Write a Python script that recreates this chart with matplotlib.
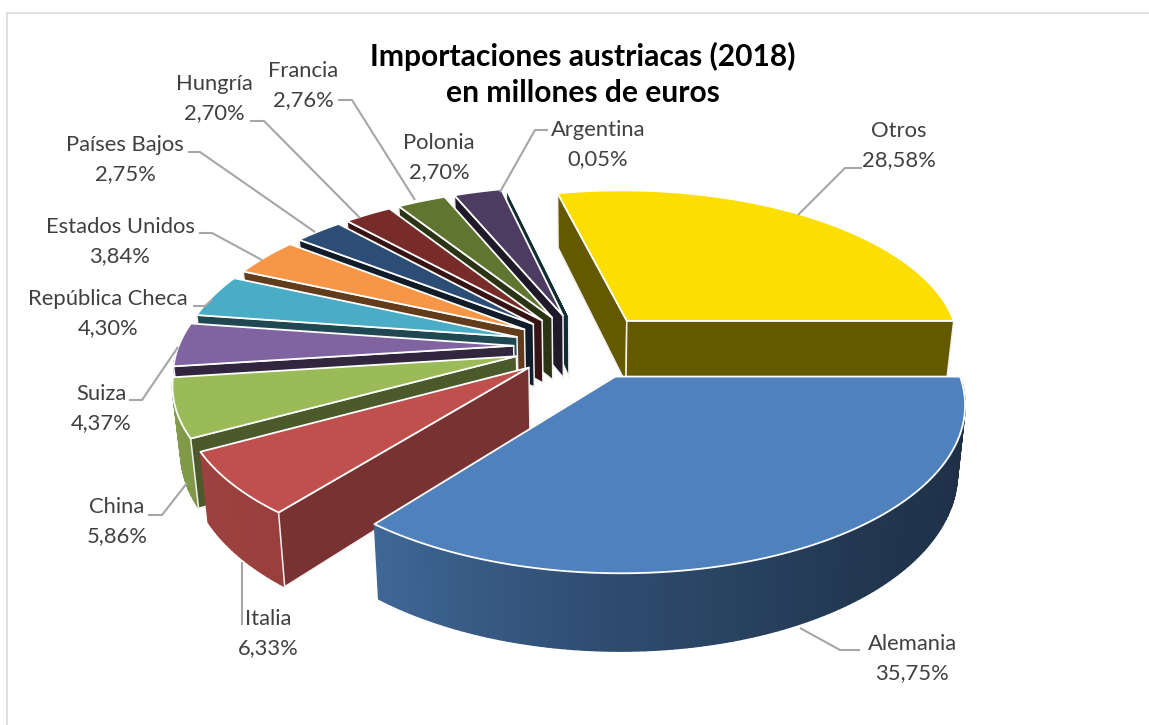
import numpy as np
import matplotlib
matplotlib.use("Agg")
from matplotlib import pyplot as plt
from matplotlib.patches import Polygon, Rectangle

plt.rcParams['font.family'] = ['Lato', 'DejaVu Sans']

countries = ['Alemania', 'Italia', 'China', 'Suiza', 'República Checa', 'Estados Unidos',
             'Países Bajos', 'Hungría', 'Francia', 'Polonia', 'Argentina', 'Otros']
shares = [35.75, 6.33, 5.86, 4.37, 4.30, 3.84, 2.75, 2.70, 2.76, 2.70, 0.05, 28.58]

top_colors = ['#4f81bd', '#bf504d', '#9bbb59', '#8064a2', '#4bacc6', '#f79646',
              '#2c4d75', '#772c2a', '#5f7530', '#4d3b62', '#276a7c', '#fcde00']
wall_shade = [0.42, 0.63, 0.48, 0.38, 0.42, 0.40, 0.36, 0.45, 0.45, 0.42, 0.42, 0.40]

# where each label sits (name line, x and y in pixels) and its leader line
label_pos = [(912, 644), (268, 619), (117, 507), (101, 394), (108, 299), (120, 227),
             (125, 145), (214, 84), (303, 71), (439, 143), (598, 130), (899, 131)]
leaders = [[(800, 628), (840, 650), (860, 650)],
           [(242, 562), (242, 625)],
           [(187, 483), (162, 515), (148, 515)],
           [(178, 347), (142, 400), (129, 400)],
           [(212, 300), (205, 306), (193, 306)],
           [(262, 260), (212, 233), (199, 233)],
           [(315, 232), (200, 152), (188, 152)],
           [(360, 218), (264, 121), (250, 121)],
           [(415, 200), (352, 100), (338, 100)],
           None,
           [(500, 192), (535, 130), (548, 130)],
           [(798, 215), (845, 168), (862, 168)]]

# projection of the tilted pie
CX, CY = 584, 346
RX, RY = 335, 157
PERSP = 0.15
DEPTH = 64
SHRINK = 0.02  # bottom face is a bit narrower than the top one
EXPLODE = 0.21


def project(x, y, z=0.0):
    w = 1 - PERSP * np.asarray(y)
    return CX + RX * np.asarray(x) / w * (1 - SHRINK * z), CY + (RY * np.asarray(y) + DEPTH * z) / w


def shade(color, f):
    return tuple(c * f for c in matplotlib.colors.to_rgb(color))


def area(pts):
    x, y = np.array(pts).T
    return 0.5 * np.sum(x * np.roll(y, -1) - np.roll(x, -1) * y)


def drawSlice(ax, start, end, color, wall_f):
    # angles in degrees, clockwise on screen, y points to the viewer
    mid = np.radians((start + end) / 2)
    ox, oy = EXPLODE * np.cos(mid), EXPLODE * np.sin(mid)
    th = np.radians(np.linspace(start, end, max(int(end - start), 1) + 1))
    rx, ry = ox + np.cos(th), oy + np.sin(th)

    apex_top = project(ox, oy)
    apex_bot = project(ox, oy, 1)
    rim_top = np.column_stack(project(rx, ry))
    rim_bot = np.column_stack(project(rx, ry, 1))

    # outer wall as small strips for the gradient
    for i in range(len(th) - 1):
        if np.sin((th[i] + th[i + 1]) / 2) <= 0:
            continue
        deg = np.degrees((th[i] + th[i + 1]) / 2)
        f = np.interp(deg, [0, 50, 90, 129, 180], [0.35, 0.42, 0.58, 0.80, 0.84])
        quad = [rim_top[i], rim_top[i + 1], rim_bot[i + 1], rim_bot[i]]
        c = shade(color, f)
        ax.add_patch(Polygon(quad, closed=True, facecolor=c, edgecolor=c, linewidth=1.0))

    # radial walls, only when they face the viewer
    wall_a = [apex_top, rim_top[0], rim_bot[0], apex_bot]
    wall_b = [apex_top, apex_bot, rim_bot[-1], rim_top[-1]]
    for wall in (wall_a, wall_b):
        if area(wall) < 0:
            ax.add_patch(Polygon(wall, closed=True, facecolor=shade(color, wall_f),
                                 edgecolor='#f2f2f2', linewidth=1.1, joinstyle='round'))

    outline = np.vstack([[apex_top], rim_top])
    ax.add_patch(Polygon(outline, closed=True, facecolor=color, edgecolor='white',
                         linewidth=1.3, joinstyle='round'))


fig = plt.figure(figsize=(11.49, 7.25), dpi=100)
ax = fig.add_axes([0, 0, 1, 1])
ax.set_xlim(0, 1149)
ax.set_ylim(725, 0)
ax.axis('off')

ax.add_patch(Rectangle((6.5, 12.5), 1160, 740, facecolor='white', edgecolor='#d9d9d9', linewidth=1.2))

# slice angles from the shares, first slice starts at the right and goes clockwise
edges = np.concatenate([[0], np.cumsum(shares)]) / sum(shares) * 360
mids = (edges[:-1] + edges[1:]) / 2
order = np.argsort(np.sin(np.radians(mids)))
for line in leaders:
    if line:
        xs, ys = zip(*line)
        ax.plot(xs, ys, color='#a6a6a6', linewidth=1.5, solid_capstyle='butt')
for i in order:
    drawSlice(ax, edges[i], edges[i + 1], top_colors[i], wall_shade[i])

for name, value, (x, y) in zip(countries, shares, label_pos):
    ax.text(x, y, name, ha='center', va='center', fontsize=15.8, color='#404040')
    ax.text(x, y + 29, f"{value:.2f}%".replace('.', ','), ha='center', va='center',
            fontsize=15.8, color='#404040')

ax.text(583, 56, 'Importaciones austriacas (2018)', ha='center', va='center',
        fontsize=21.6, fontweight='bold', color='black')
ax.text(583, 93, 'en millones de euros', ha='center', va='center',
        fontsize=21.6, fontweight='bold', color='black')

fig.savefig('out.png', dpi=100)
